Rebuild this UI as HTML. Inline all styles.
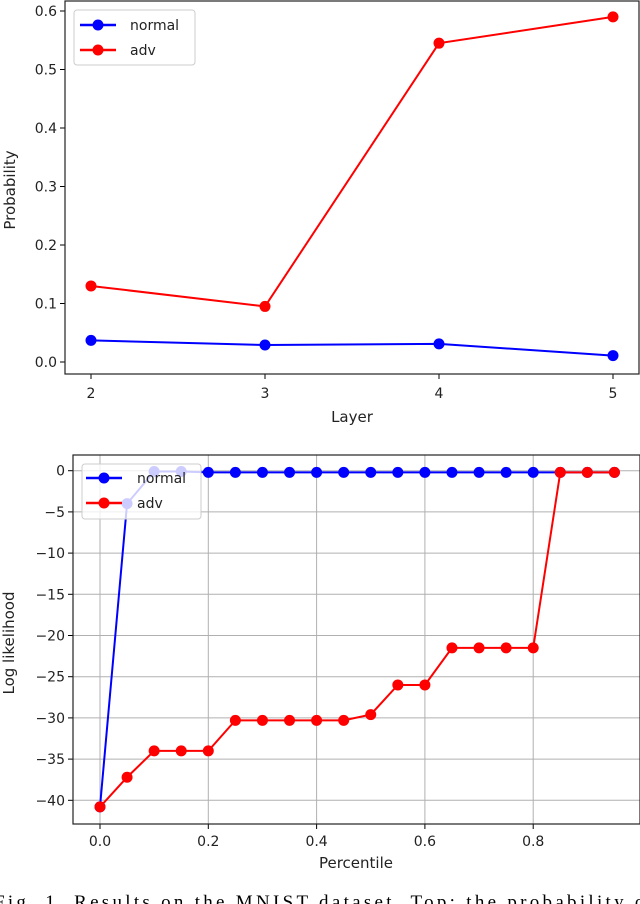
<!DOCTYPE html>
<html><head><meta charset="utf-8">
<style>
body{margin:0;background:#fff;width:640px;height:904px;overflow:hidden;font-family:"Liberation Sans","DejaVu Sans",sans-serif;}
svg{display:block}
text{font-family:"DejaVu Sans","Liberation Sans",sans-serif;}
</style></head><body>
<svg id="chart" width="640" height="904" viewBox="0 0 640 904" xmlns="http://www.w3.org/2000/svg">
<text x="-6" y="908" font-size="19" fill="#000" textLength="660" lengthAdjust="spacing" style="font-family:'Liberation Serif',serif">Fig. 1.   Results on the MNIST dataset. Top: the probability of</text>
</svg>
<script>
// Top chart data
const layers = [2, 3, 4, 5];
const topNormal = [0.037, 0.029, 0.031, 0.011];
const topAdv = [0.13, 0.095, 0.545, 0.59];
const topYTicks = [0.0, 0.1, 0.2, 0.3, 0.4, 0.5, 0.6];
// Bottom chart data
const percentiles = [0,0.05,0.1,0.15,0.2,0.25,0.3,0.35,0.4,0.45,0.5,0.55,0.6,0.65,0.7,0.75,0.8,0.85,0.9,0.95];
const botNormal = [-40.8,-4,-0.1,-0.1,-0.2,-0.2,-0.2,-0.2,-0.2,-0.2,-0.2,-0.2,-0.2,-0.2,-0.2,-0.2,-0.2,-0.2,-0.2,-0.2];
const botAdv = [-40.8,-37.2,-34,-34,-34,-30.3,-30.3,-30.3,-30.3,-30.3,-29.6,-26,-26,-21.5,-21.5,-21.5,-21.5,-0.2,-0.2,-0.2];
const botXTicks = [0.0, 0.2, 0.4, 0.6, 0.8];
const botYTicks = [0, -5, -10, -15, -20, -25, -30, -35, -40];

const svg = document.getElementById('chart');
const NS = 'http://www.w3.org/2000/svg';
function mk(tag, attrs, parent){const e=document.createElementNS(NS,tag);for(const k in attrs)e.setAttribute(k,attrs[k]);(parent||svg).appendChild(e);return e;}

// ---- top chart ----
const tx = v => 91 + (v - 2) * 174;
const ty = v => 362 - v * 585;
const g1 = mk('g', {});


topYTicks.forEach(v => {
  const y = ty(v);
  const t = mk('line', {x1:60,x2:65,y1:y,y2:y,stroke:'#000','stroke-width':1}, g1);
  
  
  const l = mk('text', {x:57,y:y+5,'text-anchor':'end','font-size':14,fill:'#222'}, g1);
  l.textContent = v.toFixed(1);
  
  
});
layers.forEach(v => {
  const x = tx(v);
  const t = mk('line', {x1:x,x2:x,y1:374,y2:379,stroke:'#000','stroke-width':1}, g1);
  
  
  const l = mk('text', {x:x,y:398,'text-anchor':'middle','font-size':14,fill:'#222'}, g1);
  l.textContent = v;
  
  
});
function series(g, xs, ys, fx, fy, color, name, r, w){
  const pl = mk('polyline', {points: xs.map((x,i)=>fx(x)+','+fy(ys[i])).join(' '), fill:'none', stroke:color, 'stroke-width':w}, g);
  
  
  xs.forEach((x,i) => {
    const c = mk('circle', {cx:fx(x), cy:fy(ys[i]), r:r, fill:color}, g);
    
    
  });
}
series(g1, layers, topNormal, tx, ty, '#0000ff', 'top-normal', 5.5, 2);
series(g1, layers, topAdv, tx, ty, '#ff0000', 'top-adv', 5.5, 2);
const ax1 = mk('rect', {x:65,y:1,width:574,height:373,fill:'none',stroke:'#222','stroke-width':1.2}, g1);


const xl1 = mk('text', {x:352,y:422,'text-anchor':'middle','font-size':15,fill:'#222'}, g1);
xl1.textContent = 'Layer';


const yl1 = mk('text', {x:0,y:0,'text-anchor':'middle','font-size':15,fill:'#222',transform:'translate(15,190) rotate(-90)'}, g1);
yl1.textContent = 'Probability';


// legend top
const lg1 = mk('g', {}, g1);


mk('rect', {x:74,y:10,width:121,height:55,rx:3,fill:'#fff',stroke:'#ccc'}, lg1);
[['normal','#0000ff',25],['adv','#ff0000',50]].forEach(([n,c,y])=>{
  mk('line',{x1:80,x2:116,y1:y,y2:y,stroke:c,'stroke-width':2.5},lg1);
  mk('circle',{cx:98,cy:y,r:5.5,fill:c},lg1);
  const t=mk('text',{x:130,y:y+5,'font-size':14,fill:'#222'},lg1);
  t.textContent=n;
  
  
});

// ---- bottom chart ----
const bx = v => 100 + v * 541.5;
const by = v => 470.7 - v * 8.24;
const g2 = mk('g', {});


botYTicks.forEach(v => {
  const y = by(v);
  const gl = mk('line', {x1:73,x2:640,y1:y,y2:y,stroke:'#b0b0b0','stroke-width':1}, g2);
  
  
  mk('line', {x1:68,x2:73,y1:y,y2:y,stroke:'#000'}, g2);
  const l = mk('text', {x:65,y:y+5,'text-anchor':'end','font-size':14,fill:'#222'}, g2);
  l.textContent = v === 0 ? '0' : '\u2212' + Math.abs(v);
  
  
});
botXTicks.forEach(v => {
  const x = bx(v);
  const gl = mk('line', {x1:x,x2:x,y1:455,y2:824,stroke:'#b0b0b0','stroke-width':1}, g2);
  
  
  mk('line', {x1:x,x2:x,y1:824,y2:829,stroke:'#000'}, g2);
  const l = mk('text', {x:x,y:846,'text-anchor':'middle','font-size':14,fill:'#222'}, g2);
  l.textContent = v.toFixed(1);
  
  
});
series(g2, percentiles, botNormal, bx, by, '#0000ff', 'bottom-normal', 5.5, 2);
series(g2, percentiles, botAdv, bx, by, '#ff0000', 'bottom-adv', 5.5, 2);
const ax2 = mk('rect', {x:73,y:455,width:567,height:369,fill:'none',stroke:'#222','stroke-width':1.2}, g2);


const xl2 = mk('text', {x:356,y:868,'text-anchor':'middle','font-size':15,fill:'#222'}, g2);
xl2.textContent = 'Percentile';


const yl2 = mk('text', {x:0,y:0,'text-anchor':'middle','font-size':15,fill:'#222',transform:'translate(14,643) rotate(-90)'}, g2);
yl2.textContent = 'Log likelihood';


const lg2 = mk('g', {}, g2);


mk('rect', {x:82,y:464,width:119,height:55,rx:3,fill:'#fff','fill-opacity':0.8,stroke:'#ccc'}, lg2);
[['normal','#0000ff',478],['adv','#ff0000',503]].forEach(([n,c,y])=>{
  mk('line',{x1:86,x2:122,y1:y,y2:y,stroke:c,'stroke-width':2.5},lg2);
  mk('circle',{cx:104,cy:y,r:5.5,fill:c},lg2);
  const t=mk('text',{x:137,y:y+5,'font-size':14,fill:'#222'},lg2);
  t.textContent=n;
  
  
});
</script>
</body></html>
